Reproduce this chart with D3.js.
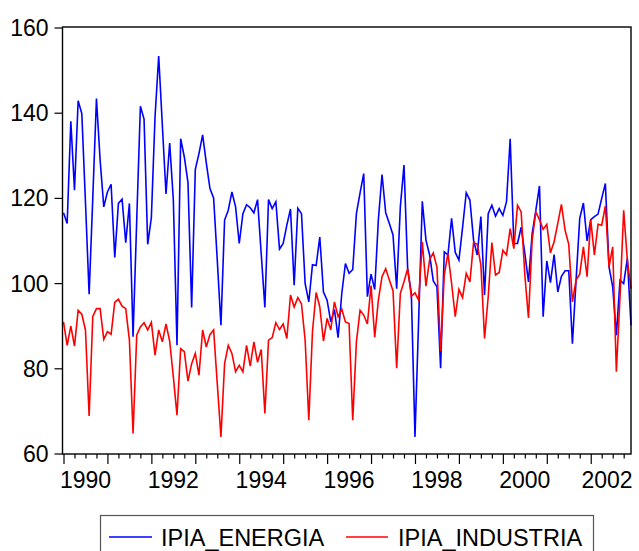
<!DOCTYPE html>
<html>
<head>
<meta charset="utf-8">
<script src="https://cdn.jsdelivr.net/npm/d3@7"></script>
<style>
  html, body { margin: 0; padding: 0; background: #fff; }
  svg { display: block; }
  text { font-family: "Liberation Sans", Arial, sans-serif; }
</style>
</head>
<body>
<svg id="chart" width="639" height="551"></svg>
<script>
// ---- data (monthly, 1990M01 - 2002M12) ----
const startYear = 1990;
const seriesNames = ["IPIA_ENERGIA", "IPIA_INDUSTRIA"];
const seriesColors = ["#0000ff", "#ff0000"];
const yTicks = [60, 80, 100, 120, 140, 160];
const xLabelYears = [1990, 1992, 1994, 1996, 1998, 2000, 2002];

const ipiaEnergia = [
  116.5,114.0,138.0,121.8,142.8,139.8,119.0,97.4,120.0,143.3,128.9,117.9,
  121.4,123.2,106.0,118.7,119.7,109.5,118.7,87.4,114.8,141.5,138.5,109.1,
  115.4,139.0,153.3,137.0,120.9,132.9,119.5,85.4,133.9,129.6,123.6,94.3,
  126.7,130.4,134.8,128.2,122.2,120.0,105.4,90.1,114.8,117.1,121.4,117.9,
  109.3,116.3,118.4,117.7,116.5,119.6,106.9,94.3,119.6,117.5,119.1,108.0,
  109.3,113.6,117.4,99.5,117.6,116.3,99.9,95.6,104.3,104.1,110.8,97.9,
  96.0,90.9,93.8,87.2,97.5,104.6,102.3,103.2,116.3,121.2,125.7,96.8,
  102.1,98.5,114.9,125.5,116.5,114.0,111.3,98.7,117.9,127.7,103.4,97.6,
  63.9,91.3,119.2,110.1,106.6,100.5,99.1,80.0,107.3,106.6,115.2,107.2,
  105.4,113.1,121.2,119.5,110.1,106.6,115.6,97.2,116.3,118.3,115.7,117.5,
  115.9,119.1,133.9,109.3,109.3,113.1,107.0,100.3,111.6,117.0,122.8,92.1,
  105.2,100.1,106.7,97.9,101.6,102.9,102.9,85.8,100.7,115.2,118.8,109.9,
  114.9,115.6,116.2,119.9,123.4,103.8,99.1,87.8,100.7,99.9,105.8,90.1
];
const ipiaIndustria = [
  90.9,85.4,89.9,85.2,93.6,92.7,89.0,68.8,92.2,94.0,94.0,86.8,
  88.6,88.0,95.5,96.2,94.6,94.0,86.6,64.7,87.8,89.7,90.7,89.0,
  90.8,83.1,89.0,86.2,90.4,86.4,78.0,69.0,84.6,83.9,77.0,81.1,
  83.5,78.4,89.0,85.0,87.9,89.0,76.4,63.9,81.1,85.4,83.5,79.2,
  80.7,79.2,85.4,80.5,86.2,81.4,84.4,69.4,86.6,87.2,90.7,89.1,
  90.4,87.0,97.2,94.4,96.6,95.1,86.6,67.8,88.6,97.8,94.4,86.4,
  91.7,89.0,95.6,92.1,93.9,90.9,90.5,67.8,86.2,93.6,92.5,90.4,
  99.4,87.3,96.0,101.5,103.4,100.7,98.2,80.0,97.6,100.3,103.4,96.9,
  97.7,96.0,109.7,99.3,105.5,107.1,103.7,84.0,101.9,107.0,99.9,92.1,
  98.5,96.6,102.3,100.3,109.5,109.1,104.2,87.0,96.8,109.5,101.9,102.5,
  107.7,106.6,112.8,108.1,118.3,116.7,101.9,91.8,110.1,116.7,114.9,112.6,
  113.8,107.1,109.7,114.0,118.5,112.4,109.1,95.6,100.7,102.1,108.5,101.5,
  114.9,106.6,113.8,113.6,118.1,103.8,108.5,79.2,96.8,117.1,105.4,98.7
];

// ---- layout ----
const svg = d3.select("#chart");
const plotL = 62.5, plotR = 631, plotT = 27, plotB = 454;
const nObs = ipiaEnergia.length;
const t = i => startYear + i / 12;

const x = d3.scaleLinear()
  .domain([startYear, t(nObs - 1)])
  .range([63.5, plotR]);
const y = d3.scaleLinear()
  .domain([60, 160])
  .range([453.5, 27.5]);

svg.append("rect").attr("width", 639).attr("height", 551).attr("fill", "#fff");

// y axis
const yAxis = svg.append("g")
  .attr("transform", `translate(${plotL},0)`)
  .call(d3.axisLeft(y).tickValues(yTicks).tickSize(8).tickPadding(6).tickSizeOuter(0));
yAxis.select(".domain").remove();
yAxis.selectAll("line").attr("stroke", "#000").attr("stroke-width", 1.2);
yAxis.selectAll("text").attr("font-size", 23).attr("fill", "#000")
  .attr("font-family", "Liberation Sans, Arial, sans-serif").attr("dy", "0.35em");

// x axis: minor quarterly ticks and major yearly ticks
const endYear = startYear + Math.floor((nObs - 1) / 12);
const quarters = [];
for (let yr = startYear; yr <= endYear; yr++) for (let q = 1; q < 4; q++) {
  const v = yr + q / 4;
  if (v <= t(nObs - 1)) quarters.push(v);
}
const years = d3.range(startYear, endYear + 1);

const xMinor = svg.append("g")
  .attr("transform", `translate(0,${plotB})`)
  .call(d3.axisBottom(x).tickValues(quarters).tickSize(4.5).tickFormat("").tickSizeOuter(0));
xMinor.select(".domain").remove();
const xMajor = svg.append("g")
  .attr("transform", `translate(0,${plotB})`)
  .call(d3.axisBottom(x).tickValues(years).tickSize(10).tickFormat("").tickSizeOuter(0));
xMajor.select(".domain").remove();
svg.selectAll(".tick line").attr("stroke", "#000").attr("stroke-width", 1.2);

svg.append("g").selectAll("text")
  .data(xLabelYears)
  .join("text")
  .attr("x", d => Math.min(x(d + 0.5), plotR - 24))
  .attr("y", 487.5)
  .attr("text-anchor", "middle")
  .attr("font-size", 23)
  .attr("fill", "#000")
  .text(d => d);

// lines
const line = d3.line().x((d, i) => x(t(i))).y(d => y(d));
[ipiaEnergia, ipiaIndustria].forEach((s, k) => {
  svg.append("path")
    .datum(s)
    .attr("d", line)
    .attr("fill", "none")
    .attr("stroke", seriesColors[k])
    .attr("stroke-width", 1.6)
    .attr("stroke-linejoin", "miter");
});

// frame
svg.append("rect")
  .attr("x", plotL).attr("y", plotT)
  .attr("width", plotR - plotL).attr("height", plotB - plotT)
  .attr("fill", "none").attr("stroke", "#000").attr("stroke-width", 1.4);

// legend
const lg = svg.append("g");
lg.append("rect").attr("x", 100.5).attr("y", 515.5).attr("width", 493).attr("height", 60)
  .attr("fill", "#fff").attr("stroke", "#555").attr("stroke-width", 1.2);
const legendItems = [{x1: 109, x2: 152, tx: 161}, {x1: 346, x2: 388, tx: 398}];
legendItems.forEach((it, k) => {
  lg.append("line").attr("x1", it.x1).attr("x2", it.x2).attr("y1", 537).attr("y2", 537)
    .attr("stroke", seriesColors[k]).attr("stroke-width", 1.4);
  lg.append("text").attr("x", it.tx).attr("y", 545.5).attr("font-size", 23.5)
    .attr("fill", "#000").text(seriesNames[k]);
});
</script>
</body>
</html>
